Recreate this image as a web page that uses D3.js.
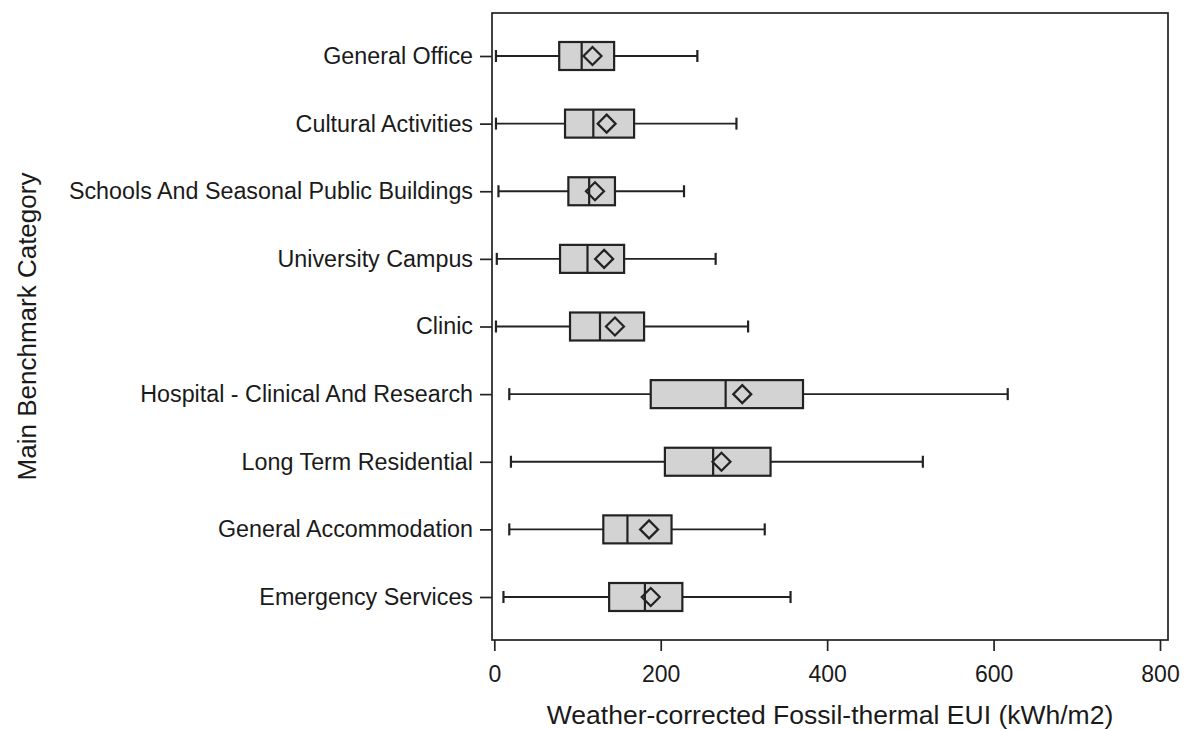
<!DOCTYPE html>
<html>
<head>
<meta charset="utf-8">
<script src="https://cdn.jsdelivr.net/npm/d3@7"></script>
<style>
  html, body { margin: 0; padding: 0; background: #fff; }
  svg { display: block; font-family: "Liberation Sans", Arial, sans-serif; }
</style>
</head>
<body>
<svg id="chart" width="1188" height="729"></svg>
<script>
// ---- data ----
const categories = [
  "General Office",
  "Cultural Activities",
  "Schools And Seasonal Public Buildings",
  "University Campus",
  "Clinic",
  "Hospital - Clinical And Research",
  "Long Term Residential",
  "General Accommodation",
  "Emergency Services"
];
const whiskerLow  = [2,   2,   5,   3,   2,   18,  20,  18,  11];
const q1          = [78,  85,  89,  79,  91,  188, 205, 131, 138];
const medians     = [105, 119, 114, 112, 127, 278, 263, 160, 181];
const means       = [118, 135, 121, 132, 145, 298, 273, 186, 188];
const q3          = [144, 168, 145, 156, 180, 371, 332, 213, 226];
const whiskerHigh = [244, 291, 228, 266, 305, 617, 515, 325, 356];
const xTicks = [0, 200, 400, 600, 800];
const xTitle = "Weather-corrected Fossil-thermal EUI (kWh/m2)";
const yTitle = "Main Benchmark Category";

const rows = categories.map((c, i) => ({
  cat: c, lo: whiskerLow[i], q1: q1[i], med: medians[i],
  mean: means[i], q3: q3[i], hi: whiskerHigh[i]
}));

// ---- layout ----
const svg = d3.select("#chart");
const frame = { left: 492, right: 1168, top: 13, bottom: 640 };
const x = d3.scaleLinear().domain([0, 800]).range([494.3, 1160]);
const y = d3.scalePoint().domain(categories).range([56, 597]);

const ink = "#222";
const fill = "#d3d3d3";
const boxH = 28, capH = 12, dR = 9;
const fontFam = '"Liberation Sans", Arial, sans-serif';

// frame
svg.append("rect")
  .attr("x", frame.left).attr("y", frame.top)
  .attr("width", frame.right - frame.left)
  .attr("height", frame.bottom - frame.top)
  .attr("fill", "none").attr("stroke", ink).attr("stroke-width", 1.7);

// x axis
const xAxis = svg.append("g")
  .attr("transform", `translate(0,${frame.bottom})`)
  .call(d3.axisBottom(x).tickValues(xTicks).tickSize(11).tickPadding(15).tickFormat(d3.format("d")));
xAxis.select(".domain").remove();
xAxis.selectAll(".tick line").attr("stroke", ink).attr("stroke-width", 1.7);
xAxis.selectAll(".tick text").attr("fill", "#1a1a1a").style("font-size", "23px")
  .style("font-family", fontFam);

// y axis
const yAxis = svg.append("g")
  .attr("transform", `translate(${frame.left},0)`)
  .call(d3.axisLeft(y).tickSize(12).tickPadding(7));
yAxis.select(".domain").remove();
yAxis.selectAll(".tick line").attr("stroke", ink).attr("stroke-width", 1.7);
yAxis.selectAll(".tick text").attr("fill", "#1a1a1a").style("font-size", "23.3px")
  .style("font-family", fontFam);

// boxes
const g = svg.append("g");
const b = g.selectAll("g.box").data(rows).join("g").attr("class", "box");

// whiskers
b.append("line")
  .attr("x1", d => x(d.lo)).attr("x2", d => x(d.q1))
  .attr("y1", d => y(d.cat)).attr("y2", d => y(d.cat))
  .attr("stroke", ink).attr("stroke-width", 1.9);
b.append("line")
  .attr("x1", d => x(d.q3)).attr("x2", d => x(d.hi))
  .attr("y1", d => y(d.cat)).attr("y2", d => y(d.cat))
  .attr("stroke", ink).attr("stroke-width", 1.9);
// caps
b.append("line")
  .attr("x1", d => x(d.lo)).attr("x2", d => x(d.lo))
  .attr("y1", d => y(d.cat) - capH / 2).attr("y2", d => y(d.cat) + capH / 2)
  .attr("stroke", ink).attr("stroke-width", 2.2);
b.append("line")
  .attr("x1", d => x(d.hi)).attr("x2", d => x(d.hi))
  .attr("y1", d => y(d.cat) - capH / 2).attr("y2", d => y(d.cat) + capH / 2)
  .attr("stroke", ink).attr("stroke-width", 2.2);
// box
b.append("rect")
  .attr("x", d => x(d.q1)).attr("width", d => x(d.q3) - x(d.q1))
  .attr("y", d => y(d.cat) - boxH / 2).attr("height", boxH)
  .attr("fill", fill).attr("stroke", ink).attr("stroke-width", 2.2);
// median
b.append("line")
  .attr("x1", d => x(d.med)).attr("x2", d => x(d.med))
  .attr("y1", d => y(d.cat) - boxH / 2).attr("y2", d => y(d.cat) + boxH / 2)
  .attr("stroke", ink).attr("stroke-width", 2.2);
// mean diamond
b.append("path")
  .attr("d", d => {
    const cx = x(d.mean), cy = y(d.cat);
    return `M${cx},${cy - dR}L${cx + dR},${cy}L${cx},${cy + dR}L${cx - dR},${cy}Z`;
  })
  .attr("fill", "none").attr("stroke", ink).attr("stroke-width", 2.2);

// titles
svg.append("text")
  .attr("x", (frame.left + frame.right) / 2).attr("y", 724)
  .attr("text-anchor", "middle").attr("fill", "#1a1a1a")
  .style("font-size", "26.5px").style("font-family", fontFam)
  .text(xTitle);
svg.append("text")
  .attr("transform", `translate(36,${(frame.top + frame.bottom) / 2}) rotate(-90)`)
  .attr("text-anchor", "middle").attr("fill", "#1a1a1a")
  .style("font-size", "26px").style("font-family", fontFam)
  .text(yTitle);
</script>
</body>
</html>
